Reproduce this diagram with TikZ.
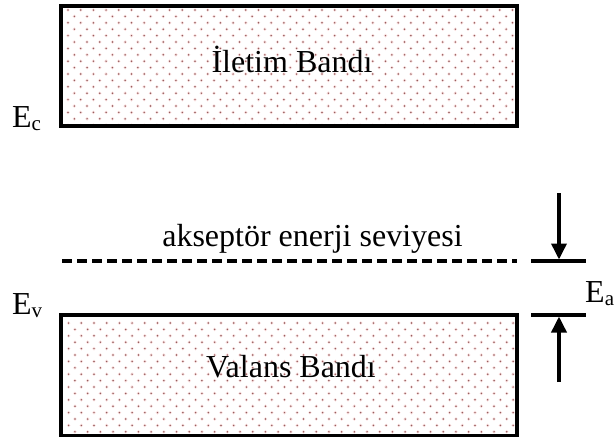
\documentclass[tikz,border=0pt]{standalone}
\usepackage{fontspec}
\setmainfont{Liberation Serif}
\usetikzlibrary{arrows.meta}

\definecolor{dotcol}{RGB}{150,95,95}
\definecolor{halocol}{RGB}{250,225,225}

% staggered dot fill, measured from the north-west corner of the band
\newcommand\banddots[2]{%
  \foreach \r in {0,...,19}{%
    \foreach \c in {0,...,36}{%
      \pgfmathsetmacro\dx{#1+\c*12.7+mod(\r,2)*6.35}%
      \pgfmathsetmacro\dy{#2+\r*6.4}%
      \fill[halocol] ([shift={(\dx,\dy)}]path picture bounding box.north west) circle[radius=1.9];
      \fill[dotcol] ([shift={(\dx,\dy)}]path picture bounding box.north west) circle[radius=0.85];
    }}}

\tikzset{
  band/.style={draw=black, line width=4pt, minimum width=455.7pt, inner sep=0pt},
  bigtext/.style={font=\fontsize{32}{38}\selectfont, inner sep=0pt, anchor=base},
  level/.style={line width=3.8pt},
  dashlevel/.style={line width=3.5pt, dash pattern=on 10pt off 5pt},
  gaparrow/.style={line width=3.6pt, -{Triangle[length=16pt,width=15pt]}}
}

\newcommand\subE[1]{E\raisebox{-3pt}{\fontsize{21}{24}\selectfont #1}}

\begin{document}
\begin{tikzpicture}[x=1pt,y=-1pt]
\useasboundingbox (0,0) rectangle (614,437);

% conduction band
\node[band, minimum height=120pt, path picture={\banddots{6.7}{4}}]
  (cband) at (289.15,66) {};
% valence band
\node[band, minimum height=120.5pt, path picture={\banddots{7.3}{8}}]
  (vband) at (289.15,375.25) {};

\node[bigtext] (ctext) at (292,72) {İletim Bandı};
\node[bigtext] (vtext) at (291,377) {Valans Bandı};

% acceptor level
\coordinate (accL) at (62,261);
\coordinate (accR) at (517,261);
\draw[dashlevel] (accL) -- (accR);
\node[bigtext] (acctext) at (312.5,246) {akseptör enerji seviyesi};

% energy labels
\node[bigtext, anchor=base west] (ec) at (12,127) {\subE{c}};
\node[bigtext, anchor=base west] (ev) at (12,314) {\subE{v}};
\node[bigtext, anchor=base west] (ea) at (585,302) {\subE{a}};

% gap markers
\coordinate (t1) at (531,261);
\coordinate (t2) at (586,261);
\coordinate (b1) at (531,315);
\coordinate (b2) at (586,315);
\draw[level] (t1) -- (t2);
\draw[level] (b1) -- (b2);
\coordinate (tarrow) at (559,193);
\coordinate (tend) at (559,259.5);
\coordinate (barrow) at (559,382);
\coordinate (bend) at (559,316.5);
\draw[gaparrow] (tarrow) -- (tend);
\draw[gaparrow] (barrow) -- (bend);
\end{tikzpicture}
\end{document}
